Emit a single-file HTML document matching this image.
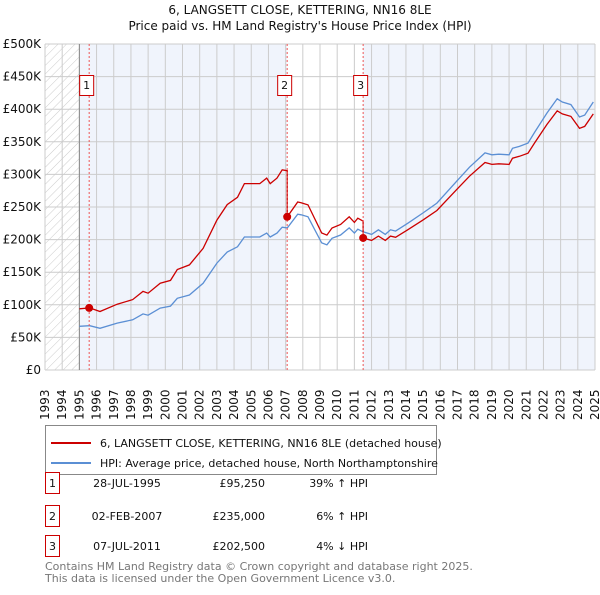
<!DOCTYPE html>
<html><head><meta charset="utf-8"><style>
body{margin:0;background:#fff;font-family:"Liberation Sans","DejaVu Sans",sans-serif;}
svg text{font-family:"DejaVu Sans","Liberation Sans",sans-serif;}
</style></head><body>
<svg id="c" width="600" height="590" xmlns="http://www.w3.org/2000/svg">
<text x="300" y="14" text-anchor="middle" font-size="12" fill="#111">6, LANGSETT CLOSE, KETTERING, NN16 8LE</text>
<text x="300" y="30" text-anchor="middle" font-size="12" fill="#111">Price paid vs. HM Land Registry's House Price Index (HPI)</text>
<defs><pattern id="h" width="6" height="6" patternUnits="userSpaceOnUse" patternTransform="rotate(45)"><line x1="0" y1="0" x2="0" y2="6" stroke="#ccc" stroke-width="1"/></pattern></defs>
<g id="bg"></g><g id="grid"></g><g id="axes"></g><g id="lines"></g><g id="marks"></g>
<g>
<rect x="45.5" y="425.5" width="391" height="49" fill="#fff" stroke="#888"/>
<line x1="51" y1="443" x2="91" y2="443" stroke="#cc0000" stroke-width="2"/>
<text x="100" y="447" font-size="11" fill="#111">6, LANGSETT CLOSE, KETTERING, NN16 8LE (detached house)</text>
<line x1="51" y1="463" x2="91" y2="463" stroke="#5b8fd4" stroke-width="2"/>
<text x="100" y="467" font-size="11" fill="#111">HPI: Average price, detached house, North Northamptonshire</text>
</g>
<g id="table" font-size="11" fill="#111"></g>
<text x="45" y="570" font-size="11" fill="#777">Contains HM Land Registry data © Crown copyright and database right 2025.</text>
<text x="45" y="582" font-size="11" fill="#777">This data is licensed under the Open Government Licence v3.0.</text>
</svg>
<script>
const hpiYears=[1995.0,1995.6,1996.2,1997.2,1998.1,1998.7,1999.0,1999.7,2000.3,2000.7,2001.4,2002.2,2003.0,2003.6,2004.2,2004.6,2005.5,2005.9,2006.1,2006.5,2006.8,2007.1,2007.7,2007.9,2008.3,2008.7,2009.1,2009.4,2009.7,2010.2,2010.7,2011.0,2011.2,2011.5,2012.0,2012.4,2012.8,2013.1,2013.4,2014.1,2015.0,2015.8,2017.0,2017.7,2018.6,2019.0,2019.4,2020.0,2020.2,2020.6,2021.1,2021.5,2022.2,2022.8,2023.1,2023.6,2024.1,2024.4,2024.9];
const hpiValues=[67,68,64,72,77,86,84,95,98,110,115,133,164,181,189,204,204,210,204,210,219,218,239,238,235,215,195,192,202,207,218,210,216,212,208,215,208,215,213,225,241,256,291,311,333,330,331,330,340,343,348,365,394,416,411,407,388,391,411];
const saleYears=[1995.57,2007.09,2011.51];
const salePrices=[95.25,235,202.5];
const saleDates=["28-JUL-1995","02-FEB-2007","07-JUL-2011"];
const salePriceLabels=["£95,250","£235,000","£202,500"];
const saleHpiLabels=["39% ↑ HPI","6% ↑ HPI","4% ↓ HPI"];
const yTicks=[0,50,100,150,200,250,300,350,400,450,500];
const yTickLabels=["£0","£50K","£100K","£150K","£200K","£250K","£300K","£350K","£400K","£450K","£500K"];
const xTicks=[1993,1994,1995,1996,1997,1998,1999,2000,2001,2002,2003,2004,2005,2006,2007,2008,2009,2010,2011,2012,2013,2014,2015,2016,2017,2018,2019,2020,2021,2022,2023,2024,2025];
const NS="http://www.w3.org/2000/svg";
const X=y=>45+(y-1993)*550/32, Y=v=>370-v*326/500;
function mk(p,t,a){const e=document.createElementNS(NS,t);for(const k in a)e.setAttribute(k,a[k]);document.getElementById(p).appendChild(e);return e;}
function hpiAt(t){if(t<=hpiYears[0])return hpiValues[0];for(let i=1;i<hpiYears.length;i++){if(t<=hpiYears[i]){const f=(t-hpiYears[i-1])/(hpiYears[i]-hpiYears[i-1]);return hpiValues[i-1]+f*(hpiValues[i]-hpiValues[i-1]);}}return hpiValues[hpiValues.length-1];}
let r=mk('bg','rect',{x:X(1993),y:Y(500),width:X(1995)-X(1993),height:Y(0)-Y(500),fill:'url(#h)'});

r=mk('bg','rect',{x:X(1995),y:Y(500),width:X(saleYears[1])-X(1995),height:Y(0)-Y(500),fill:'#f0f4fc'});

r=mk('bg','rect',{x:X(saleYears[2]),y:Y(500),width:X(2025)-X(saleYears[2]),height:Y(0)-Y(500),fill:'#f0f4fc'});

xTicks.forEach(t=>{const l=mk('grid','line',{x1:X(t),x2:X(t),y1:Y(0),y2:Y(500),stroke:'#ccc','stroke-width':1});

const tx=mk('axes','text',{x:0,y:0,transform:`translate(${X(t)+4},420) rotate(-90)`,'text-anchor':'start','font-size':12,fill:'#111'});
tx.textContent=t;});
yTicks.forEach((v,i)=>{const l=mk('grid','line',{x1:X(1993),x2:X(2025),y1:Y(v),y2:Y(v),stroke:'#ccc','stroke-width':1});

const tx=mk('axes','text',{x:41,y:Y(v)+4,'text-anchor':'end','font-size':12,fill:'#111'});
tx.textContent=yTickLabels[i];});
let a=mk('axes','line',{x1:X(1995),x2:X(1995),y1:Y(0),y2:Y(500),stroke:'#888'});
let d=hpiYears.map((t,i)=>(i?'L':'M')+X(t).toFixed(1)+','+Y(hpiValues[i]).toFixed(1)).join('');
let p=mk('lines','path',{d:d,fill:'none',stroke:'#5b8fd4','stroke-width':1.3});

const pts=[];
for(let s=0;s<saleYears.length;s++){const ratio=salePrices[s]/hpiAt(saleYears[s]);const t0=s?saleYears[s]:hpiYears[0];const t1=s<saleYears.length-1?saleYears[s+1]:hpiYears[hpiYears.length-1];
const ts=[t0].concat(hpiYears.filter(t=>t>t0&&t<t1)).concat([t1]);ts.forEach(t=>pts.push([t,hpiAt(t)*ratio]));}
d=pts.map((q,i)=>(i?'L':'M')+X(q[0]).toFixed(1)+','+Y(q[1]).toFixed(1)).join('');
p=mk('lines','path',{d:d,fill:'none',stroke:'#cc0000','stroke-width':1.3});

saleYears.forEach((t,i)=>{const x=X(t);
const l=mk('marks','line',{x1:x,x2:x,y1:Y(0),y2:Y(500),stroke:'#e55','stroke-dasharray':'2,2','stroke-width':1});

const c=mk('marks','circle',{cx:x,cy:Y(salePrices[i]),r:4,fill:'#cc0000'});

const b=mk('marks','rect',{x:x-9.5,y:75.5,width:14,height:20,fill:'#fff',stroke:'#cc0000'});

const tx=mk('marks','text',{x:x-2.5,y:89,'text-anchor':'middle','font-size':11,fill:'#111'});
tx.textContent=i+1;
const ry=[483,516,546][i];
const tb=mk('table','rect',{x:45.5,y:ry-10.5,width:14,height:21,fill:'#fff',stroke:'#cc0000'});

const cells=[[52.5,'middle',i+1],[127,'middle',saleDates[i]],[265,'end',salePriceLabels[i]],[368,'end',saleHpiLabels[i]]];
cells.forEach(cc=>{const e=mk('table','text',{x:cc[0],y:ry+4,'text-anchor':cc[1],'font-size':11,fill:'#111'});
e.textContent=cc[2];});});
</script>
</body></html>
